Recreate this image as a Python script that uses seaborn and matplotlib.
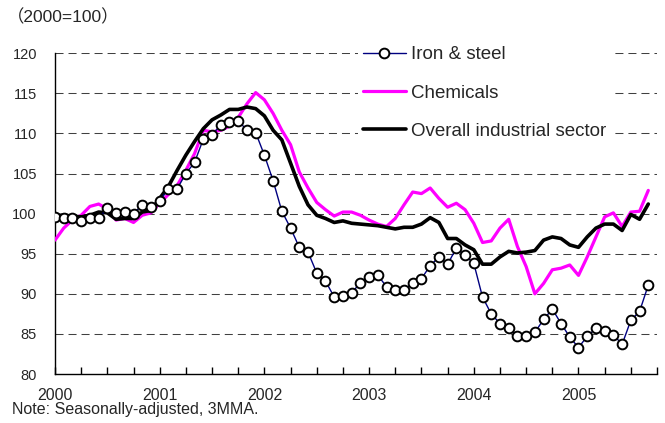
import numpy as np
import pandas as pd
import matplotlib
matplotlib.use('Agg')
import matplotlib.pyplot as plt
import seaborn as sns

# Monthly indices, Jan 2000 - Sep 2005 (2000=100)
years = ['2000', '2001', '2002', '2003', '2004', '2005']
iron_steel = [99.6, 99.5, 99.4, 99.1, 99.4, 99.4, 100.7, 100.1, 100.2, 100.0, 101.1, 100.8,
              101.6, 103.1, 103.1, 105.0, 106.4, 109.3, 109.8, 111.1, 111.4, 111.6, 110.4, 110.1,
              107.3, 104.1, 100.3, 98.2, 95.8, 95.2, 92.6, 91.6, 89.6, 89.7, 90.1, 91.4,
              92.1, 92.3, 90.9, 90.5, 90.5, 91.3, 91.9, 93.5, 94.6, 93.7, 95.7, 94.8,
              93.8, 89.6, 87.5, 86.3, 85.7, 84.7, 84.7, 85.2, 86.8, 88.1, 86.3, 84.6,
              83.3, 84.7, 85.7, 85.4, 84.9, 83.7, 86.7, 87.8, 91.1]
chemicals = [96.7, 98.2, 99.2, 99.8, 100.9, 101.2, 100.6, 99.2, 99.4, 98.9, 99.8, 100.1,
             101.3, 102.4, 103.5, 105.4, 107.5, 110.4, 110.2, 110.4, 110.9, 112.0, 113.7, 115.1,
             114.2, 112.5, 110.4, 108.6, 105.2, 103.2, 101.4, 100.5, 99.7, 100.2, 100.2, 99.8,
             99.2, 98.7, 98.4, 99.4, 101.1, 102.7, 102.5, 103.2, 101.9, 100.8, 101.3, 100.5,
             98.8, 96.4, 96.6, 98.2, 99.3, 95.9, 93.4, 90.0, 91.3, 93.0, 93.2, 93.6,
             92.3, 94.6, 97.1, 99.6, 100.1, 98.4, 100.2, 100.3, 102.9]
overall = [99.8, 99.8, 99.7, 99.6, 99.8, 100.2, 100.1, 99.3, 99.4, 99.4, 100.2, 100.4,
           101.9, 103.4, 105.4, 107.3, 109.0, 110.6, 111.7, 112.3, 113.0, 113.0, 113.3, 113.1,
           112.2, 110.4, 109.2, 106.3, 103.4, 101.1, 99.8, 99.4, 98.9, 99.1, 98.8, 98.7,
           98.6, 98.5, 98.3, 98.1, 98.3, 98.3, 98.7, 99.5, 98.9, 96.9, 96.9, 96.1,
           95.5, 93.7, 93.7, 94.6, 95.3, 95.1, 95.2, 95.4, 96.7, 97.1, 96.9, 96.1,
           95.8, 97.1, 98.2, 98.7, 98.7, 97.9, 99.9, 99.3, 101.2]

months = np.arange(len(iron_steel))
df = pd.DataFrame({'month': months, 'iron': iron_steel,
                   'chem': chemicals, 'overall': overall})

sns.set_theme(style='white')
plt.rcParams['font.family'] = ['Liberation Sans', 'Noto Sans CJK JP', 'DejaVu Sans']

fig = plt.figure(figsize=(6.65, 4.23), dpi=100)
ax = fig.add_axes([0.0827, 0.1158, 0.9053, 0.7582])

sns.lineplot(data=df, x='month', y='chem', ax=ax, color='#FF00FF', linewidth=2.3,
             label='Chemicals', zorder=3)
sns.lineplot(data=df, x='month', y='overall', ax=ax, color='black', linewidth=2.6,
             label='Overall industrial sector', zorder=4)
sns.lineplot(data=df, x='month', y='iron', ax=ax, color='#000080', linewidth=1.0,
             marker='o', markersize=7, markerfacecolor='white', markeredgecolor='black',
             markeredgewidth=1.4, label='Iron & steel', zorder=5)

ax.set_xlim(0, 69)
ax.set_ylim(80, 120)
ax.set_yticks(range(80, 121, 5))
ax.set_xticks(range(0, 70, 3))
ax.set_xticklabels([years[i // 12] if i % 12 == 0 and i // 12 < len(years) else ''
                    for i in range(0, 70, 3)])
ax.tick_params(axis='x', direction='in', length=5, width=1, color='black',
               pad=10, labelsize=11.5, bottom=True)
ax.tick_params(axis='y', length=0, pad=13, labelsize=10.5)
ax.set_xlabel('')
ax.set_ylabel('')

for v in range(85, 121, 5):
    ax.axhline(v, color='#404040', linewidth=0.75, dashes=(7.7, 4.8), zorder=1)

for s in ['top', 'right']:
    ax.spines[s].set_visible(False)
for s in ['left', 'bottom']:
    ax.spines[s].set_color('black')
    ax.spines[s].set_linewidth(1.0)

handles, labels = ax.get_legend_handles_labels()
order = [2, 0, 1]
leg = ax.legend([handles[i] for i in order], [labels[i] for i in order],
                loc='center left', bbox_to_anchor=(0.503, 0.876), borderaxespad=0,
                frameon=True, facecolor='white', edgecolor='none', framealpha=1,
                fontsize=13.5, labelspacing=1.13, handlelength=2.3, handletextpad=0.27,
                borderpad=0.25)
leg.set_zorder(6)

fig.text(0.010, 0.96, '（2000=100）', fontsize=12.5, va='center', ha='left')
fig.text(0.018, 0.031, 'Note: Seasonally-adjusted, 3MMA.', fontsize=11.5, va='center', ha='left')

fig.savefig('out.png', dpi=100)
